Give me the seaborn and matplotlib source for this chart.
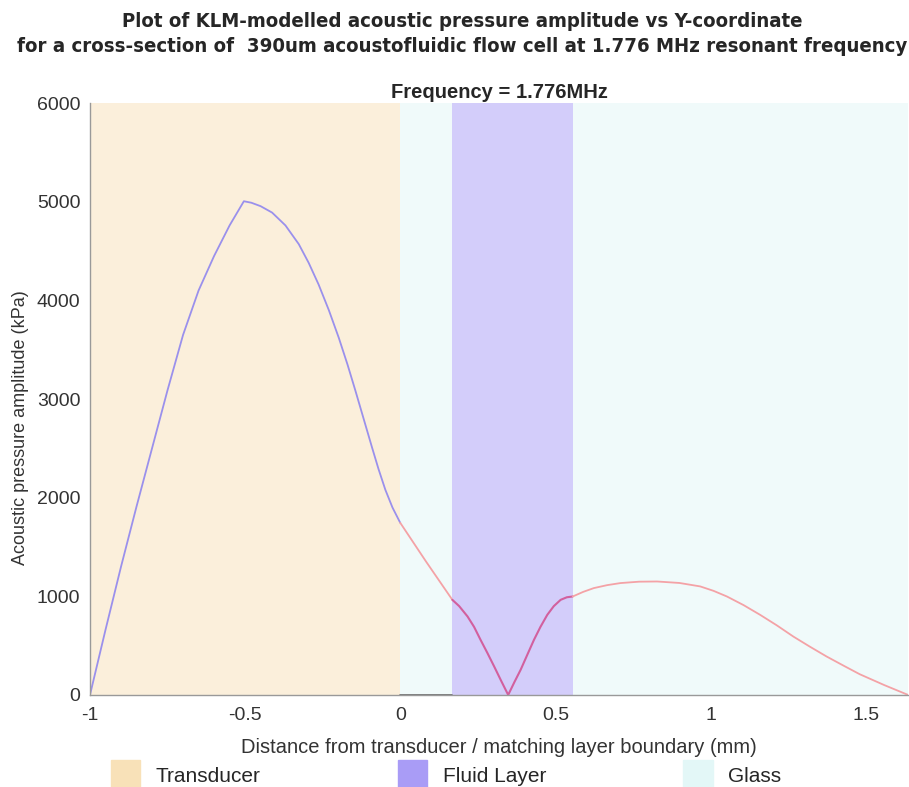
import matplotlib
matplotlib.use("Agg")
import matplotlib.pyplot as plt
import matplotlib.patches as mpatches
import seaborn as sns

# ---- data (x in mm, pressure in kPa) ----
transducer_x = [-1.0, -0.95, -0.90, -0.85, -0.80, -0.75, -0.70, -0.65, -0.60,
                -0.55, -0.504, -0.480, -0.450, -0.413, -0.370, -0.327, -0.295,
                -0.263, -0.230, -0.198, -0.170, -0.145, -0.118, -0.091, -0.070,
                -0.048, -0.025, 0.0]
transducer_p = [0, 660, 1300, 1910, 2500, 3090, 3650, 4100, 4450,
                4760, 5005, 4990, 4955, 4890, 4760, 4570, 4380,
                4160, 3900, 3620, 3350, 3090, 2800, 2510, 2290,
                2080, 1900, 1745]

glass1_x = [0.0, 0.083, 0.168]
glass1_p = [1745, 1353, 964]

fluid_x = [0.168, 0.190, 0.217, 0.238, 0.259, 0.281, 0.303, 0.325, 0.348,
           0.368, 0.388, 0.410, 0.431, 0.452, 0.474, 0.495, 0.517, 0.537, 0.556]
fluid_p = [964, 900, 795, 690, 558, 425, 287, 145, 0,
           130, 254, 410, 558, 690, 812, 900, 964, 990, 998]

glass2_x = [0.556, 0.590, 0.624, 0.667, 0.710, 0.770, 0.828, 0.900, 0.967, 1.010,
            1.053, 1.107, 1.160, 1.214, 1.267, 1.320, 1.374, 1.430, 1.481, 1.560, 1.637]
glass2_p = [998, 1045, 1083, 1113, 1134, 1148, 1150, 1135, 1100, 1055,
            998, 910, 812, 705, 592, 490, 390, 295, 210, 100, 0]

zero_x = [0.0, 0.168]
zero_p = [0, 0]

layers = ["Transducer", "Fluid Layer", "Glass"]
layer_spans = {"Transducer": [(-1.0, 0.0)],
               "Fluid Layer": [(0.168, 0.556)],
               "Glass": [(0.0, 0.168), (0.556, 1.637)]}
layer_colors = {"Transducer": "#F8E1B8", "Fluid Layer": "#A99CF6", "Glass": "#E3F7F7"}

sns.set_style("white")

fig = plt.figure(figsize=(9.09, 7.87), dpi=100)
ax = fig.add_axes([0.099, 0.117, 0.9, 0.752])

for name in layers:
    for a, b in layer_spans[name]:
        ax.axvspan(a, b, color=layer_colors[name], alpha=0.5, lw=0, zorder=0)

sns.lineplot(x=transducer_x, y=transducer_p, color="#9A90EC", lw=1.3, ax=ax)
sns.lineplot(x=glass1_x, y=glass1_p, color="#F4A2A6", lw=1.3, ax=ax)
sns.lineplot(x=fluid_x, y=fluid_p, color="#D2609E", lw=1.5, ax=ax)
sns.lineplot(x=glass2_x, y=glass2_p, color="#F4A2A6", lw=1.3, ax=ax)
sns.lineplot(x=zero_x, y=zero_p, color="#666666", lw=1.2, ax=ax)

ax.set_xlim(-1, 1.637)
ax.set_ylim(0, 6000)
ax.set_xticks([-1, -0.5, 0, 0.5, 1, 1.5])
ax.set_xticklabels(["-1", "-0.5", "0", "0.5", "1", "1.5"])
ax.set_yticks(range(0, 6001, 1000))

tick_font = ["Liberation Sans", "DejaVu Sans"]
for lab in ax.get_xticklabels() + ax.get_yticklabels():
    lab.set_family(tick_font)
    lab.set_fontsize(14)
    lab.set_color("#333333")
ax.tick_params(axis="both", direction="in", length=4, width=0.8, color="#888888")
ax.tick_params(axis="x", pad=9)
ax.tick_params(axis="y", pad=7)
for side in ["top", "right"]:
    ax.spines[side].set_visible(False)
for side in ["left", "bottom"]:
    ax.spines[side].set_color("#999999")
    ax.spines[side].set_linewidth(1.0)

ax.set_xlabel("Distance from transducer / matching layer boundary (mm)",
              family=tick_font, fontsize=14.5, color="#333333", labelpad=10)
ax.set_ylabel("Acoustic pressure amplitude (kPa)",
              family=tick_font, fontsize=13, color="#333333")
ax.yaxis.set_label_coords(-0.075, 0.451)
ax.set_title("Frequency = 1.776MHz", family=tick_font, fontsize=14.5,
             fontweight="bold", pad=4)

fig.text(0.508, 0.985,
         "Plot of KLM-modelled acoustic pressure amplitude vs Y-coordinate\n"
         "for a cross-section of  390um acoustofluidic flow cell at 1.776 MHz resonant frequency",
         ha="center", va="top", fontsize=14.6, fontweight="bold", linespacing=1.4,
         fontstretch="condensed", family="DejaVu Sans")

handles = [mpatches.Patch(color=layer_colors[n], label=n) for n in layers]
leg = fig.legend(handles=handles, loc="lower left", bbox_to_anchor=(0.101, -0.03),
                 ncol=3, frameon=False, handlelength=1.4, handleheight=2.0,
                 handletextpad=0.75, columnspacing=6.6,
                 prop={"family": tick_font, "size": 15})

fig.savefig("out.png", dpi=100)
